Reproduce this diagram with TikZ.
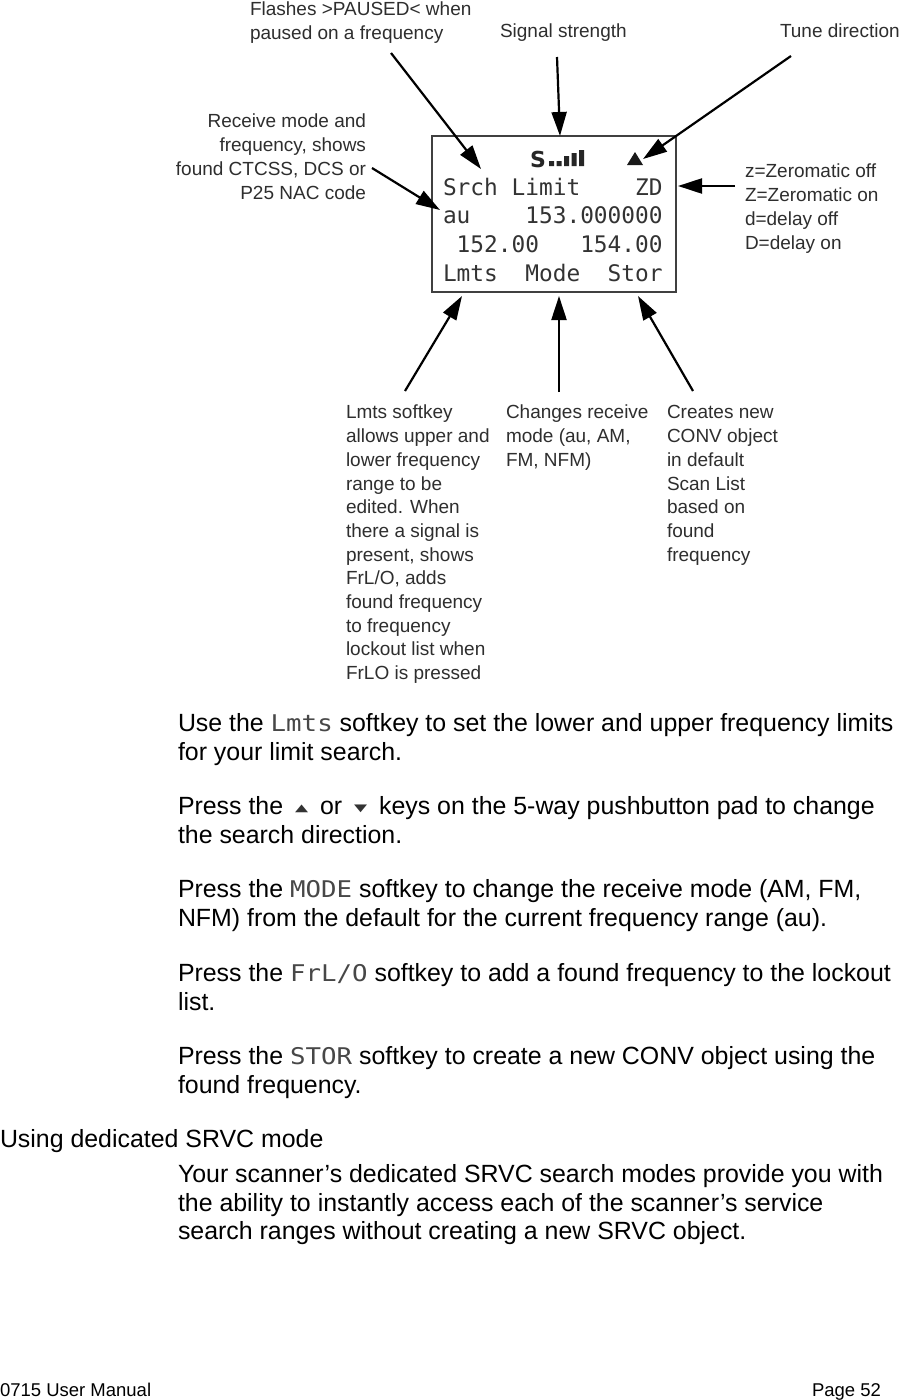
\documentclass[tikz,border=0pt]{standalone}
\usepackage{fontspec}
\setmainfont{Liberation Sans}
\newfontfamily\lcdfont{DejaVu Sans Mono}
\newfontfamily\symfont{DejaVu Sans}
\usetikzlibrary{arrows.meta}
\newcommand\softkey[1]{{\lcdfont\fontsize{23}{29}\selectfont\textcolor{black!72}{\scalebox{1.12}[1]{#1}}}}
\newcommand\keytri[1]{\hspace{5pt}{\symfont\fontsize{17}{29}\selectfont\textcolor{black!80}{\raisebox{2.5pt}{\scalebox{1}[0.6]{#1}}}}\hspace{5pt}}
\begin{document}
\begin{tikzpicture}[x=1pt,y=-1pt,
  every node/.style={inner sep=0pt,outer sep=0pt},
  note/.style={anchor=north west,align=left,text=black!82,font=\fontsize{19}{23.7}\selectfont},
  noter/.style={note,anchor=north east,align=right},
  body/.style={anchor=north west,align=left,text=black,font=\fontsize{24.9}{29}\selectfont},
  foot/.style={text=black,font=\fontsize{18.5}{22}\selectfont},
  lcdrow/.style={anchor=base west,text=black!80,font=\fontsize{22.8}{26}\lcdfont},
  pointer/.style={draw=black,line width=2.2pt,-{Triangle[length=24pt,width=15pt]}},
]
\useasboundingbox[fill=white] (0,0) rectangle (898,1400);

% LCD display
\node[draw=black!75,line width=2.5pt,minimum width=244pt,minimum height=156pt,anchor=north west] (lcd) at (432,136) {};
\node[anchor=base west,text=black!85,font=\fontsize{22}{26}\symfont\bfseries] (sig) at (530,167) {S};
\fill[black!85] (549,166) rectangle +(5,-5)
                (556.5,166) rectangle +(5,-5)
                (564,166) rectangle +(5,-10)
                (571.5,166) rectangle +(5,-13)
                (579,166) rectangle +(5,-16);
\fill[black!90] (627,165) -- (643,165) -- (635,152) -- cycle;
\node[lcdrow] (row1) at (443,195) {Srch~Limit~~~~ZD};
\node[lcdrow] (row2) at (443,223) {au~~~~153.000000};
\node[lcdrow] (row3) at (443,252) {~152.00~~~154.00};
\node[lcdrow] (row4) at (443,281) {Lmts~~Mode~~Stor};

% annotations
\node[note] (flash) at (250,-0.8) {\strut Flashes >PAUSED< when\\paused on a frequency};
\node[note] (sigl) at (500,21.4) {\strut Signal strength};
\node[note] (tune) at (780,21.4) {\strut Tune direction};
\node[noter] (rx) at (366,111.4) {\strut Receive mode and\\frequency, shows\\found CTCSS, DCS or\\P25 NAC code};
\node[note] (zd) at (745,161.4) {\strut z=Zeromatic off\\Z=Zeromatic on\\d=delay off\\D=delay on};
\node[note] (lmts) at (346,402.4) {\strut Lmts softkey\\allows upper and\\lower frequency\\range to be\\edited. When\\there a signal is\\present, shows\\FrL/O, adds\\found frequency\\to frequency\\lockout list when\\FrLO is pressed};
\node[note] (mode) at (506,402.4) {\strut Changes receive\\mode (au, AM,\\FM, NFM)};
\node[note] (stor) at (667,402.4) {\strut Creates new\\CONV object\\in default\\Scan List\\based on\\found\\frequency};

% arrow end points
\coordinate (pausedS) at (391,53);  \coordinate (pausedE) at (481,169);
\coordinate (sigS) at (557,57);     \coordinate (sigE) at (560,136);
\coordinate (tuneS) at (791,56);    \coordinate (tuneE) at (643,159);
\coordinate (rxS) at (372,168);     \coordinate (rxE) at (440,210);
\coordinate (zdS) at (735,186);     \coordinate (zdE) at (678,186);
\coordinate (lmtsS) at (405,391);   \coordinate (lmtsE) at (462,296);
\coordinate (modeS) at (559,392);   \coordinate (modeE) at (559,296);
\coordinate (storS) at (693,391);   \coordinate (storE) at (638,296);

\draw[pointer] (pausedS) -- (pausedE);
\draw[pointer] (sigS) -- (sigE);
\draw[pointer] (tuneS) -- (tuneE);
\draw[pointer] (rxS) -- (rxE);
\draw[pointer] (zdS) -- (zdE);
\draw[pointer] (lmtsS) -- (lmtsE);
\draw[pointer] (modeS) -- (modeE);
\draw[pointer] (storS) -- (storE);

% body text
\node[body] (p1) at (178,710.7) {\strut Use the \softkey{Lmts} softkey to set the lower and upper frequency limits\\for your limit search.};
\node[body] (p2) at (178,793.7) {\strut Press the \keytri{▲} or \keytri{▼} keys on the 5-way pushbutton pad to change\\the search direction.};
\node[body] (p3) at (178,876.7) {\strut Press the \softkey{MODE} softkey to change the receive mode (AM, FM,\\NFM) from the default for the current frequency range (au).};
\node[body] (p4) at (178,960.7) {\strut Press the \softkey{FrL/O} softkey to add a found frequency to the lockout\\list.};
\node[body] (p5) at (178,1043.7) {\strut Press the \softkey{STOR} softkey to create a new CONV object using the\\found frequency.};
\node[body] (h1) at (0,1126.7) {\strut Using dedicated SRVC mode};
\node[body,font=\fontsize{24.9}{28.5}\selectfont] (p6) at (178,1163) {\strut Your scanner’s dedicated SRVC search modes provide you with\\the ability to instantly access each of the scanner’s service\\search ranges without creating a new SRVC object.};

% footer
\node[foot,anchor=base west] (f1) at (0,1396) {0715 User Manual};
\node[foot,anchor=base east] (f2) at (881,1396) {Page 52};
\end{tikzpicture}
\end{document}
